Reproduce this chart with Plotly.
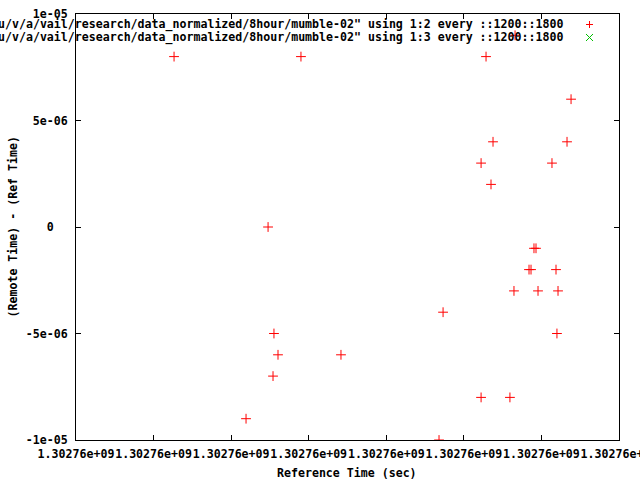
import plotly.graph_objects as go

# ---- data ----
ref_time = [1302761096, 1302761238, 1302761270, 1302761276, 1302761302,
            1302760632, 1302761450, 1302761708, 1302762340, 1302762366,
            1302762611, 1302762611, 1302762643, 1302762675, 1302762688,
            1302762797, 1302762823, 1302762830, 1302762920, 1302762933,
            1302762952, 1302762965, 1302762978, 1302763068, 1302763094,
            1302763100, 1302763107, 1302763165, 1302763191]
offset_col2 = [-9e-06, 0.0, -7e-06, -5e-06, -6e-06,
               8e-06, 8e-06, -6e-06, -1e-05, -4e-06,
               3e-06, -8e-06, 8e-06, 2e-06, 4e-06,
               -8e-06, -3e-06, 9e-06, -2e-06, -2e-06,
               -1e-06, -1e-06, -3e-06, 3e-06, -2e-06,
               -5e-06, -3e-06, 4e-06, 6e-06]
# second column: no points fall inside the visible range
ref_time_col3 = []
offset_col3 = []

series_labels = [
    'u/v/a/vail/research/data_normalized/8hour/mumble-02" using 1:2 every ::1200::1800',
    'u/v/a/vail/research/data_normalized/8hour/mumble-02" using 1:3 every ::1200::1800',
]
x_tick_vals = [1302760000, 1302760500, 1302761000, 1302761500,
               1302762000, 1302762500, 1302763000, 1302763500]
x_tick_text = ["1.30276e+09"] * 8
y_tick_vals = [-1e-05, -5e-06, 0.0, 5e-06, 1e-05]
y_tick_text = ["-1e-05", "-5e-06", "0\u00a0\u00a0", "5e-06", "1e-05"]
x_title = "Reference Time (sec)"
y_title = "(Remote Time) - (Ref Time)"

# ---- layout geometry (pixels) ----
W, H = 640, 480
L, R, T, B = 76, 619, 14, 440
FONT = dict(family="DejaVu Sans Mono", size=11.6, color="black", weight="bold")
RED = "#ff0000"
GREEN = "#00c000"


def px(xp):
    return (xp - L) / (R - L)


def py(yp):
    return (B - yp) / (B - T)


fig = go.Figure()
fig.add_trace(go.Scatter(
    x=ref_time, y=offset_col2, mode="markers", name=series_labels[0],
    marker=dict(symbol="cross-thin", size=7, line=dict(color=RED, width=1)),
    showlegend=False, cliponaxis=True))
fig.add_trace(go.Scatter(
    x=ref_time_col3, y=offset_col3, mode="markers", name=series_labels[1],
    marker=dict(symbol="x-thin", size=7, line=dict(color=GREEN, width=1)),
    showlegend=False, cliponaxis=True))

axis_common = dict(
    showgrid=False, zeroline=False, showline=True, linecolor="black",
    linewidth=1, mirror="ticks", ticks="inside", ticklen=5, tickwidth=1,
    tickcolor="black", tickfont=FONT, tickmode="array", automargin=False,
    tickangle=0,
)
fig.update_xaxes(range=[x_tick_vals[0], x_tick_vals[-1]], tickvals=x_tick_vals,
                 ticktext=x_tick_text, ticklabeloverflow="allow",
                 ticklabelstandoff=3, **axis_common)
fig.update_yaxes(range=[y_tick_vals[0], y_tick_vals[-1]], tickvals=y_tick_vals,
                 ticktext=y_tick_text, ticklabelstandoff=5, **axis_common)

annotations = [
    dict(xref="paper", yref="paper", x=px(565), y=py(24), text=series_labels[0],
         xanchor="right", yanchor="middle", showarrow=False, font=FONT),
    dict(xref="paper", yref="paper", x=px(565), y=py(37), text=series_labels[1],
         xanchor="right", yanchor="middle", showarrow=False, font=FONT),
    dict(xref="paper", yref="paper", x=px(347), y=py(473), text=x_title,
         xanchor="center", yanchor="middle", showarrow=False, font=FONT),
    dict(xref="paper", yref="paper", x=px(12.5), y=py(227), text=y_title,
         xanchor="center", yanchor="middle", showarrow=False, font=FONT,
         textangle=-90),
]

# legend sample symbols
cx, c1, c2, s = 589, 24, 37, 3
shapes = [
    dict(type="line", xref="paper", yref="paper", x0=px(cx - s), x1=px(cx + s + 1),
         y0=py(c1 + 0.5), y1=py(c1 + 0.5), line=dict(color=RED, width=1)),
    dict(type="line", xref="paper", yref="paper", x0=px(cx + 0.5), x1=px(cx + 0.5),
         y0=py(c1 - s), y1=py(c1 + s + 1), line=dict(color=RED, width=1)),
    dict(type="line", xref="paper", yref="paper", x0=px(cx - s), x1=px(cx + s + 1),
         y0=py(c2 - s), y1=py(c2 + s + 1), line=dict(color=GREEN, width=1)),
    dict(type="line", xref="paper", yref="paper", x0=px(cx - s), x1=px(cx + s + 1),
         y0=py(c2 + s + 1), y1=py(c2 - s), line=dict(color=GREEN, width=1)),
]

fig.update_layout(
    width=W, height=H, margin=dict(l=L, r=W - R, t=T, b=H - B, pad=0),
    paper_bgcolor="white", plot_bgcolor="white", showlegend=False,
    annotations=annotations, shapes=shapes, font=FONT,
)

fig.write_html(
    "out.html",
    config={"displayModeBar": False},
    post_script="document.body.style.margin='0';document.body.style.overflow='hidden';",
)
